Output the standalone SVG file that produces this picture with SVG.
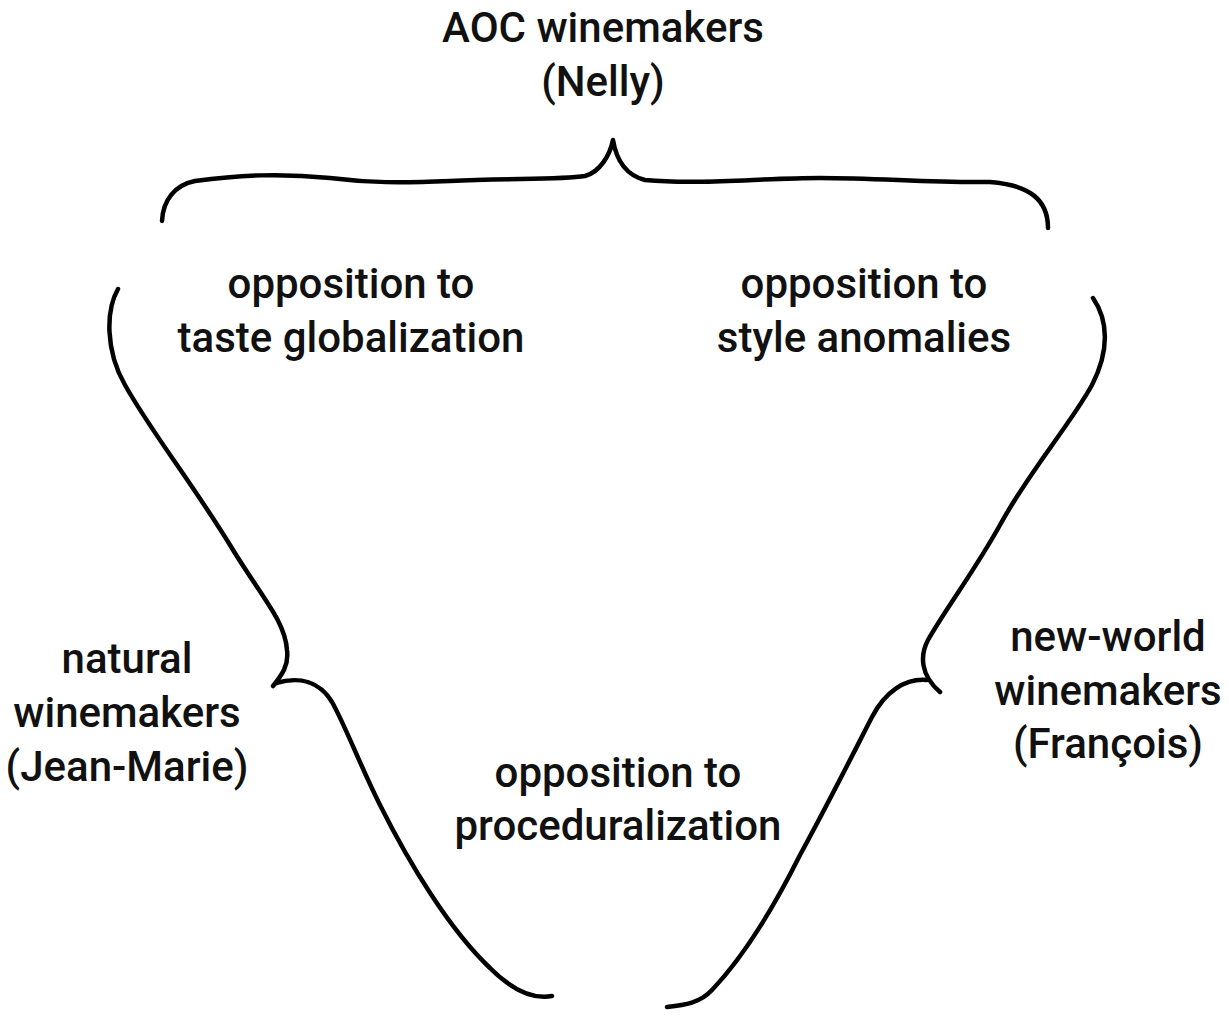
<svg xmlns="http://www.w3.org/2000/svg" width="1229" height="1027" viewBox="0 0 1229 1027">
<style>
.t{font-family:Roboto,"Liberation Sans",sans-serif;font-weight:500;font-size:42px;fill:#111;text-anchor:middle}
.b{fill:none;stroke:#000;stroke-width:4.5;stroke-linecap:round;stroke-linejoin:round}
</style>
<rect width="1229" height="1027" fill="#fff"/>
<g id="connectors">
<path class="b" d="M162,221 C163,200 175,185 195,181 C240,175 280,173 330,178 C370,183 400,183 450,181 C510,178 560,180 585,176 C600,172 610,155 613,140 C616,158 625,175 645,180 C700,185 760,178 820,178 C880,178 930,183 990,182 C1030,185 1048,200 1048,228"/>
<path class="b" d="M118,289 C106,310 105,350 125,385 C150,430 190,480 230,545 C260,595 285,620 287,650 C289,665 282,675 273,686"/>
<path class="b" d="M276,683 C300,676 320,682 332,702 C345,725 360,765 380,805 C410,865 450,930 490,968 C510,988 530,1000 552,996"/>
<path class="b" d="M1093,298 C1108,320 1110,350 1092,385 C1070,425 1030,470 1000,525 C975,570 945,610 928,640 C920,655 920,675 940,692"/>
<path class="b" d="M927,680 C905,678 885,692 872,717 C855,750 830,800 800,855 C775,905 745,955 712,990 C700,1003 685,1005 667,1007"/>
</g>
<g id="aoc"><text class="t" x="603" y="42">AOC winemakers</text><text class="t" x="603" y="96">(Nelly)</text></g>
<g id="taste"><text class="t" x="351" y="298">opposition to</text><text class="t" x="351" y="352">taste globalization</text></g>
<g id="style"><text class="t" x="864" y="298">opposition to</text><text class="t" x="864" y="352">style anomalies</text></g>
<g id="natural"><text class="t" x="127" y="673">natural</text><text class="t" x="127" y="727">winemakers</text><text class="t" x="127" y="781">(Jean-Marie)</text></g>
<g id="newworld"><text class="t" x="1108" y="651">new-world</text><text class="t" x="1108" y="705">winemakers</text><text class="t" x="1108" y="758">(François)</text></g>
<g id="proc"><text class="t" x="618" y="787">opposition to</text><text class="t" x="618" y="840">proceduralization</text></g>
</svg>
